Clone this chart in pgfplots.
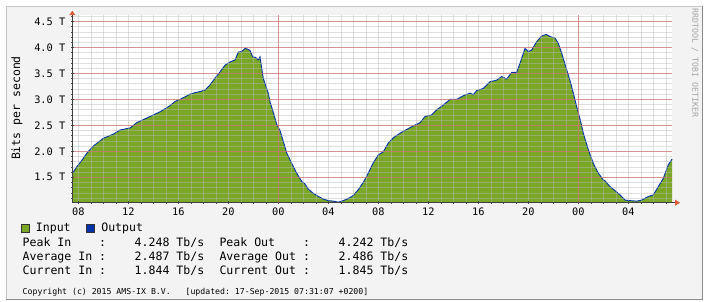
\documentclass[border=0pt]{standalone}
\usepackage{fontspec}
\setmainfont{DejaVu Sans Mono}
\setmonofont{DejaVu Sans Mono}
\usepackage{pgfplots}
\pgfplotsset{compat=1.18}
\usepackage{pgfplotstable}
\usetikzlibrary{arrows.meta}
\definecolor{inGreen}{RGB}{122,168,38}
\definecolor{outBlue}{RGB}{0,51,170}
\definecolor{canvas}{RGB}{243,243,243}
\definecolor{arrowRed}{RGB}{222,92,58}
\definecolor{majgrid}{RGB}{205,100,100}
\definecolor{mingrid}{RGB}{185,185,185}

\pgfplotstableread{
h v
7.52 1.57
7.87 1.70
8.27 1.82
8.67 1.96
9.20 2.10
10.00 2.25
10.80 2.33
11.34 2.41
12.14 2.45
12.67 2.55
13.74 2.67
14.54 2.76
15.34 2.88
15.74 2.96
16.14 3.00
16.54 3.05
16.94 3.10
17.34 3.13
17.74 3.15
18.14 3.18
18.54 3.28
18.94 3.41
19.34 3.53
19.74 3.66
20.14 3.72
20.54 3.76
20.80 3.91
21.07 3.92
21.34 3.98
21.52 3.97
21.74 3.94
21.95 3.82
22.22 3.80
22.40 3.76
22.54 3.82
22.67 3.60
22.80 3.40
23.20 3.12
23.34 2.95
23.60 2.75
23.87 2.52
24.14 2.40
24.40 2.19
24.67 1.97
25.07 1.77
25.47 1.58
25.87 1.42
26.14 1.37
26.40 1.27
26.80 1.19
27.20 1.13
27.60 1.08
28.00 1.05
28.40 1.04
28.80 1.02
29.20 1.05
29.60 1.09
30.00 1.15
30.40 1.26
30.80 1.40
31.20 1.58
31.60 1.78
32.00 1.93
32.40 1.99
32.80 2.16
33.20 2.26
33.74 2.35
34.27 2.42
34.80 2.49
35.34 2.55
35.74 2.67
36.27 2.70
36.67 2.80
37.20 2.89
37.74 3.00
38.27 3.00
38.80 3.07
39.34 3.12
39.60 3.09
39.87 3.17
40.40 3.21
40.94 3.34
41.47 3.37
41.87 3.44
42.27 3.39
42.67 3.52
43.07 3.52
43.34 3.70
43.74 3.98
44.00 3.92
44.27 3.95
44.67 4.11
45.07 4.22
45.42 4.25
45.74 4.21
46.14 4.18
46.40 4.08
46.67 3.89
47.07 3.57
47.34 3.36
47.60 3.12
47.87 2.86
48.14 2.62
48.40 2.35
48.80 2.03
49.20 1.77
49.60 1.58
50.00 1.45
50.14 1.43
50.54 1.32
50.94 1.24
51.34 1.16
51.74 1.06
52.14 1.05
52.67 1.04
53.07 1.06
53.60 1.13
54.00 1.16
54.40 1.32
54.80 1.48
55.20 1.74
55.50 1.85
}\traffic

\newcommand\legfont{\fontsize{11.55}{14}\selectfont}
\newcommand\statrow[5]{%
  \node[anchor=base west] at (22.5pt,#1) {#2};
  \node[anchor=base] at (102.5pt,#1) {:};
  \node[anchor=base west] at (134.5pt,#1) {#3~Tb/s};
  \node[anchor=base west] at (219.3pt,#1) {#4};
  \node[anchor=base] at (306.7pt,#1) {:};
  \node[anchor=base west] at (338.5pt,#1) {#5~Tb/s};
}

\begin{document}
\begin{tikzpicture}[x=1pt,y=1pt]
\useasboundingbox (0pt,0pt) rectangle (707pt,302pt);
\fill[white] (0pt,0pt) rectangle (707pt,302pt);
\fill[canvas] (6pt,2.5pt) rectangle (702pt,296pt);
\draw[black!22, line width=0.8pt] (6pt,2.5pt) -- (6pt,296pt) -- (702pt,296pt);
\draw[black!45, line width=0.8pt] (6pt,2.5pt) -- (702pt,2.5pt) -- (702pt,296pt);

\begin{axis}[
  at={(72.3pt,99.3pt)}, anchor=south west,
  scale only axis, width=600pt, height=187.7pt,
  xmin=7.52, xmax=55.52, ymin=1.01, ymax=4.625,
  axis x line=bottom, axis y line=left,
  axis line style={black!75, line width=0.8pt},
  x axis line style={-{Triangle[color=arrowRed,length=5pt,width=6pt]}, shorten >=-7.7pt},
  y axis line style={-{Triangle[color=arrowRed,length=4.5pt,width=6pt]}, shorten >=-4.3pt},
  axis on top,
  axis background/.style={fill=white},
  xtick={8,12,...,52},
  xticklabels={08,12,16,20,00,04,08,12,16,20,00,04},
  minor xtick={8,9,...,55},
  ytick={1.5,2.0,...,4.5},
  yticklabels={1.5 T,2.0 T,2.5 T,3.0 T,3.5 T,4.0 T,4.5 T},
  minor ytick={1.1,1.2,...,4.61},
  xmajorgrids=false, xminorgrids=true, ymajorgrids=true, yminorgrids=true,
  major grid style={majgrid, opacity=0.6, line width=0.6pt},
  minor grid style={mingrid, opacity=0.45, line width=0.6pt},
  extra x ticks={24,48}, extra x tick labels={},
  extra x tick style={grid=major, major tick length=0pt},
  tick style={black!70, line width=0.6pt},
  major tick length=3pt, minor tick length=2pt,
  tick label style={font=\fontsize{10.3}{12}\selectfont},
  yticklabel style={xshift=-2pt},
  clip=true,
]
\addplot[fill=inGreen, draw=none] table[x=h,y=v]{\traffic} \closedcycle;
\addplot[outBlue, line width=0.9pt] table[x=h,y=v]{\traffic};
\end{axis}

% y label
\node[rotate=90, font=\fontsize{11.5}{13}\selectfont, inner sep=0] at (17pt,194pt) {Bits per second};
% watermark
\node[rotate=-90, font=\fontsize{8.2}{10}\selectfont, text=black!35, inner sep=0] at (695pt,239.2pt) {RRDTOOL / TOBI OETIKER};

% legend
\draw[black!80, fill=inGreen, line width=0.6pt] (21pt,70pt) rectangle (29pt,78pt);
\node[anchor=base west, inner sep=0, font=\legfont] at (35.7pt,70pt) {Input};
\draw[black!80, fill=outBlue, line width=0.6pt] (86pt,70pt) rectangle (94pt,78pt);
\node[anchor=base west, inner sep=0, font=\legfont] at (101.1pt,70pt) {Output};

% statistics
\begin{scope}[every node/.style={inner sep=0, font=\legfont}]
\statrow{55.5pt}{Peak~In}{4.248}{Peak~Out}{4.242}
\statrow{41.5pt}{Average~In}{2.487}{Average~Out}{2.486}
\statrow{27.6pt}{Current~In}{1.844}{Current~Out}{1.845}
\end{scope}
\node[anchor=base west, inner sep=0, font=\fontsize{8.2}{10}\selectfont] at (22.5pt,7.2pt) {Copyright~(c)~2015~AMS-IX~B.V.~~~[updated:~17-Sep-2015~07:31:07~+0200]};
\end{tikzpicture}
\end{document}
